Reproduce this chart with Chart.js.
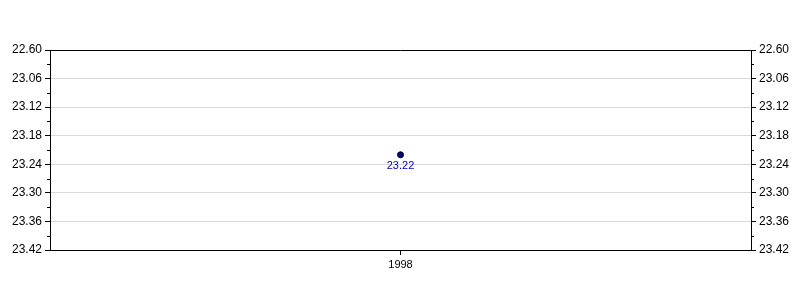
<!DOCTYPE html>
<html>
<head>
<meta charset="utf-8">
<script src="https://cdn.jsdelivr.net/npm/chart.js@4/dist/chart.umd.min.js"></script>
<style>
html,body{margin:0;padding:0;background:#fff;}
#wrap{width:800px;height:300px;}
</style>
</head>
<body>
<div id="wrap"><canvas id="c" width="800" height="300"></canvas></div>
<script>
const categories = ['1998'];
const seriesValues = [23.22];
const yTickValues = [23.00, 23.06, 23.12, 23.18, 23.24, 23.30, 23.36, 23.42];
const yTickLabels = ['22.60', '23.06', '23.12', '23.18', '23.24', '23.30', '23.36', '23.42'];
const FONT = 'Arial, "Liberation Sans", sans-serif';

const framePlugin = {
  id: 'frame',
  afterDraw(chart) {
    const ctx = chart.ctx, a = chart.chartArea;
    ctx.save();
    ctx.strokeStyle = '#000';
    ctx.lineWidth = 1;
    ctx.beginPath();
    const ty = Math.round(a.top) + 0.5;
    ctx.moveTo(a.left, ty); ctx.lineTo(a.right, ty);
    // minor ticks
    const y = chart.scales.y;
    for (let i = 0; i < yTickValues.length - 1; i++) {
      const mid = (yTickValues[i] + yTickValues[i + 1]) / 2;
      const py = Math.round(y.getPixelForValue(mid)) + 0.5;
      ctx.moveTo(a.left - 3, py); ctx.lineTo(a.left, py);
      ctx.moveTo(a.right, py); ctx.lineTo(a.right + 3, py);
    }
    ctx.stroke();
    // data labels
    const meta = chart.getDatasetMeta(0);
    ctx.fillStyle = '#0000cc';
    ctx.font = '11px ' + FONT;
    ctx.textAlign = 'center';
    ctx.textBaseline = 'middle';
    meta.data.forEach((pt, i) => {
      ctx.fillText(seriesValues[i].toFixed(2), pt.x, pt.y + 11);
    });
    ctx.restore();
  }
};

function yScale(position, width) {
  return {
    type: 'linear',
    position: position,
    reverse: true,
    min: yTickValues[0],
    max: yTickValues[yTickValues.length - 1],
    afterBuildTicks(s) { s.ticks = yTickValues.map(v => ({ value: v })); },
    afterFit(s) { s.width = width; },
    border: { display: true, color: '#000' },
    grid: {
      display: true,
      drawOnChartArea: position === 'left',
      color: '#d9d9d9',
      tickColor: '#000',
      tickLength: 5
    },
    ticks: {
      color: '#000',
      font: { size: 12, family: FONT },
      padding: 3,
      callback: (v, i) => yTickLabels[i]
    }
  };
}

new Chart(document.getElementById('c'), {
  type: 'line',
  data: {
    labels: categories,
    datasets: [{
      data: seriesValues,
      yAxisID: 'y',
      showLine: false,
      pointRadius: 3,
      pointBackgroundColor: '#000080',
      pointBorderColor: '#000',
      pointBorderWidth: 1
    }]
  },
  options: {
    responsive: false,
    animation: false,
    layout: { padding: { top: 50, left: 0, right: 0, bottom: 0 } },
    plugins: { legend: { display: false }, tooltip: { enabled: false } },
    scales: {
      x: {
        type: 'category',
        offset: true,
        afterFit(s) { s.height = 50; },
        border: { display: true, color: '#000' },
        grid: { display: true, drawOnChartArea: false, tickColor: '#000', tickLength: 5, offset: false },
        ticks: { color: '#000', font: { size: 11, family: FONT }, padding: 3, maxRotation: 0 }
      },
      y: yScale('left', 50),
      y2: yScale('right', 49)
    }
  },
  plugins: [framePlugin]
});
</script>
</body>
</html>
